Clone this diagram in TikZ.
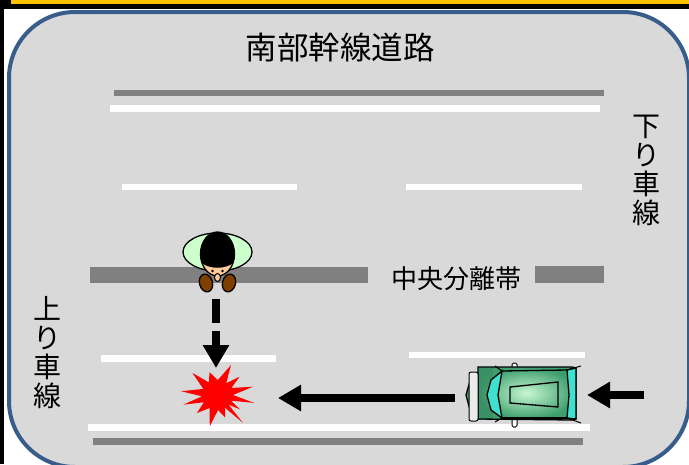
\documentclass[tikz,border=0pt]{standalone}
\usepackage{fontspec}
\newfontfamily\jp{Noto Sans CJK JP}
\usetikzlibrary{arrows.meta,shapes.geometric}
\definecolor{roadgray}{HTML}{D9D9D9}
\definecolor{roadblue}{HTML}{385D8A}
\definecolor{linegray}{HTML}{808080}
\definecolor{topyellow}{HTML}{FFC000}
\definecolor{shirt}{HTML}{CCFFCC}
\definecolor{skin}{HTML}{FFCC99}
\definecolor{shoe}{HTML}{7F3F00}
\definecolor{carlight}{HTML}{C8F7D2}
\definecolor{cardark}{HTML}{3E9E6E}
\definecolor{carcyan}{HTML}{40E0D0}
\tikzset{
  lanegray/.style={fill=linegray},
  lanewhite/.style={fill=white},
  label/.style={font=\jp\fontsize{#1}{#1}\selectfont, inner sep=0pt, text=black},
  vlabel/.style={font=\jp\fontsize{28}{29}\selectfont, inner sep=0pt, align=center, text=black},
  bigarrow/.style={line width=8pt, -{Triangle[width=25pt,length=23pt]}},
  outl/.style={draw=black, line width=1.3pt},
}
\begin{document}
\begin{tikzpicture}[x=1pt,y=-1pt]
\useasboundingbox (0,0) rectangle (689,464);
\fill[white] (0,0) rectangle (689,464);
% frame remnants
\fill[black] (0,0) rectangle (4,464);
\fill[black] (4,0) rectangle (689,9);
\fill[topyellow] (11,0) rectangle (689,4);
% road area
\draw[draw=roadblue, fill=roadgray, line width=4pt, rounded corners=66pt] (9,12) rectangle (689,467);
% lane lines
\fill[lanegray] (114,90) rectangle (604,96);
\fill[lanewhite] (110,105) rectangle (600,112);
\fill[lanewhite] (122,184) rectangle (297,190);
\fill[lanewhite] (406,184) rectangle (582,190);
\fill[lanegray] (90,267) rectangle (368,283);
\fill[lanegray] (535,266) rectangle (604,283);
\fill[lanewhite] (101,355) rectangle (276,362);
\fill[lanewhite] (409,352) rectangle (585,358);
\fill[lanewhite] (88,424) rectangle (590,431);
\fill[lanegray] (93,438) rectangle (583,445);
% texts
\node[label=31.5] (title) at (340,48) {南部幹線道路};
\node[label=26] (median) at (456,279) {中央分離帯};
\node[vlabel] (down) at (646,170) {下\\り\\車\\線};
\node[vlabel] (up) at (48,353) {上\\り\\車\\線};
% pedestrian
\coordinate (ped) at (217.5,254);
\draw[outl, fill=shoe, rotate around={15:(206,283)}] (206,283) ellipse [x radius=6.5, y radius=9];
\draw[outl, fill=shoe, rotate around={-15:(229,283)}] (229,283) ellipse [x radius=6.5, y radius=9];
\draw[outl, fill=shirt] (217.5,252) ellipse [x radius=34.5, y radius=19];
\begin{scope}
  \clip (217.5,254) ellipse [x radius=17, y radius=22];
  \fill[skin] (190,225) rectangle (245,285);
  \fill[black] (197,258) .. controls (205,271) and (230,271) .. (238,258) -- (238,225) -- (197,225) -- cycle;
\end{scope}
\draw[outl] (217.5,254) ellipse [x radius=17, y radius=22];
\fill[black] (212.5,271) circle [radius=1.4];
\fill[black] (222.5,271) circle [radius=1.4];
\draw[draw=black, line width=1pt, fill=skin] (217.5,277.5) ellipse [x radius=3, y radius=4];
% crash starburst
\coordinate (crash) at (217,395);
\begin{scope}[shift={(217,395)}]
\fill[red] (186:36) -- (204:15) -- (222:33) -- (237:15) -- (252:24) -- (273:15) -- (295:33) -- (308:15) -- (321:29) -- (334:16) -- (347:37) -- (360:16) -- (372:38) -- (382:15) -- (392:27) -- (400:15) -- (407:38) -- (418:15) -- (430:24) -- (446:15) -- (463:32) -- (480:15) -- (498:27) -- (511:15) -- (524:35) -- (535:15) -- cycle;
\end{scope}
% car
\coordinate (car) at (524,395);
\draw[draw=black, line width=1pt, fill=white, rounded corners=1.5pt] (512,363) rectangle (517,370);
\draw[draw=black, line width=1pt, fill=white, rounded corners=1.5pt] (512,416) rectangle (517,427);
\draw[outl, fill=cardark] (470,381) -- (466,395) -- (470,410) -- cycle;
\shade[inner color=carlight, outer color=cardark] (478,367) rectangle (575,419);
\fill[cardark!85!black, opacity=0.5] (478,368) rectangle (493,418);
\draw[outl] (478,367) -- (572,367) -- (576,368) -- (576,419) -- (572,420) -- (478,419) -- cycle;
\draw[outl, fill=carcyan] (502,371) -- (491,380) -- (487,395) -- (491,410) -- (502,418) -- (498,395) -- cycle;
\draw[outl, fill=carcyan] (567,370) -- (576,368) -- (576,419) -- (567,418) -- (569,395) -- cycle;
\draw[outl] (502,371) -- (567,370);
\draw[outl] (502,418) -- (567,418);
\draw[outl] (510,387) -- (558,382) -- (558,407) -- (510,403) -- cycle;
\draw[draw=black, line width=1pt] (502,371) -- (495,366) (567,370) -- (581,366) (502,418) -- (495,422) (567,418) -- (581,423);
\draw[draw=black, line width=1pt, fill=gray!15, rounded corners=2pt] (469,372) rectangle (478,421);
% arrows
\coordinate (pedStart) at (216,299);
\coordinate (crashN) at (216,368);
\coordinate (carW) at (455,398);
\coordinate (crashE) at (278,398);
\coordinate (incoming) at (644,395);
\coordinate (carE) at (587,395);
\draw[bigarrow, dash pattern=on 24pt off 8pt] (pedStart) -- (crashN);
\draw[bigarrow] (carW) -- (crashE);
\draw[bigarrow] (incoming) -- (carE);
\end{tikzpicture}
\end{document}
